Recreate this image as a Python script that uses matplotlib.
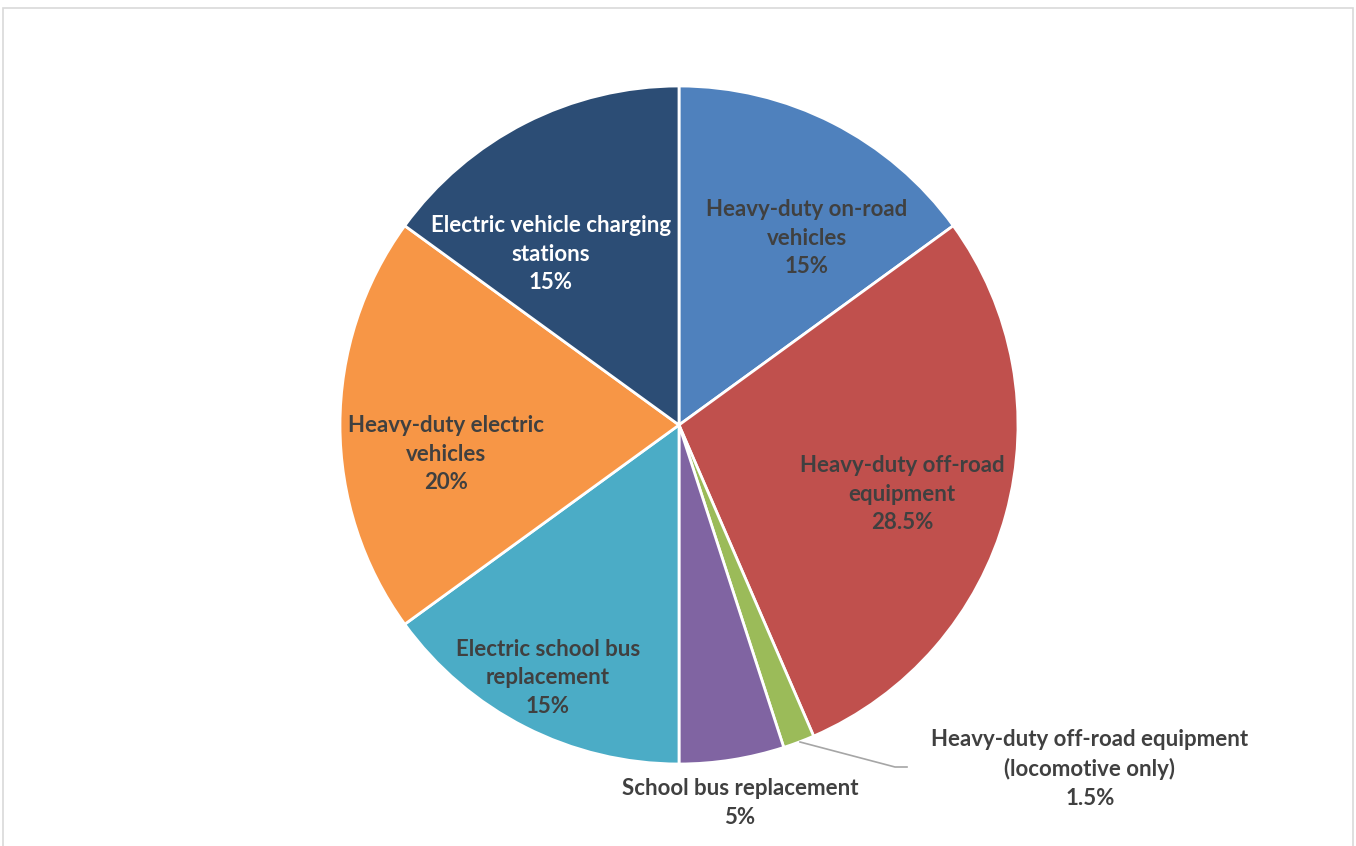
import matplotlib.pyplot as plt
from matplotlib.patches import Rectangle

# slices, clockwise from 12 o'clock
labels = ["Heavy-duty on-road\nvehicles",
          "Heavy-duty off-road\nequipment",
          "Heavy-duty off-road equipment\n(locomotive only)",
          "School bus replacement",
          "Electric school bus\nreplacement",
          "Heavy-duty electric\nvehicles",
          "Electric vehicle charging\nstations"]
shares = [15, 28.5, 1.5, 5, 15, 20, 15]
colors = ["#4F81BD", "#C0504D", "#9BBB59", "#8064A2", "#4BACC6", "#F79646", "#2C4D75"]
text_colors = ["#404040", "#404040", "#404040", "#404040", "#404040", "#404040", "white"]

# label centres (pixels from top-left)
label_xy = [(807, 238), (902, 494), (1090, 769), (740, 803),
            (548, 678), (446, 454), (551, 254)]

plt.rcParams['font.family'] = ['Lato', 'DejaVu Sans']

W, H = 1356, 846
fig = plt.figure(figsize=(W / 100, H / 100), dpi=100)
ax = fig.add_axes([0, 0, 1, 1])

cx, cy, r = 679, H - 425, 339
ax.pie(shares, colors=colors, startangle=90, counterclock=False,
       center=(cx, cy), radius=r, frame=True,
       wedgeprops=dict(edgecolor='white', linewidth=2))
ax.set_xlim(0, W)
ax.set_ylim(0, H)
ax.set_aspect('equal')
ax.axis('off')

for lab, val, (x, y), tc in zip(labels, shares, label_xy, text_colors):
    ax.text(x, H - y, "%s\n%g%%" % (lab, val), ha='center', va='center',
            fontsize=16, fontweight='bold', color=tc, linespacing=1.45)

# leader line for the thin slice
ax.plot([800, 895, 907], [H - 742, H - 767, H - 767], color='#A6A6A6', lw=1.2)

# chart frame
ax.add_patch(Rectangle((3, -5), W - 6, H - 8 + 5, fill=False,
                       edgecolor='#D9D9D9', lw=1.2))

plt.savefig("out.png", dpi=100)
